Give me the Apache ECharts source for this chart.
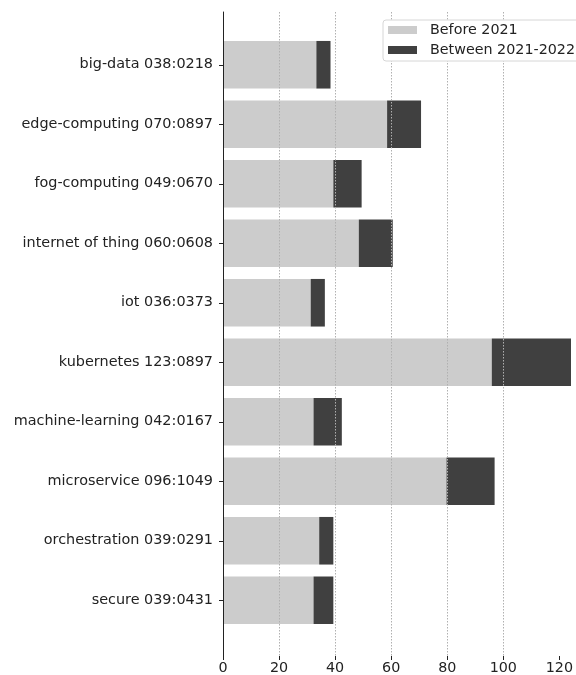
<!DOCTYPE html>
<html>
<head>
<meta charset="utf-8">
<script src="https://cdn.jsdelivr.net/npm/echarts@6/dist/echarts.min.js"></script>
<style>html,body{margin:0;padding:0;background:#fff}#c{width:576px;height:675px}</style>
</head>
<body>
<div id="c"></div>
<script>
const categories = ['big-data 038:0218','edge-computing 070:0897','fog-computing 049:0670','internet of thing 060:0608','iot 036:0373','kubernetes 123:0897','machine-learning 042:0167','microservice 096:1049','orchestration 039:0291','secure 039:0431'];
const before2021 = [33, 58, 39, 48, 31, 95, 32, 79, 34, 32];
const between2021_2022 = [5, 12, 10, 12, 5, 28, 10, 17, 5, 7];
const xTicks = [0, 20, 40, 60, 80, 100, 120];
const seriesNames = ['Before 2021', 'Between 2021-2022'];

const FONT = 'DejaVu Sans';
const TXT = '#222';
const chart = echarts.init(document.getElementById('c'), null, {renderer: 'canvas'});
chart.setOption({
  animation: false,
  backgroundColor: '#fff',
  textStyle: {fontFamily: FONT},
  grid: [
    {left: 223, right: 5, top: 12, bottom: 17, containLabel: false},
    {left: 223, right: 5, top: 35, bottom: 45, containLabel: false}
  ],
  legend: {
    data: seriesNames,
    orient: 'vertical',
    left: 383, top: 20,
    itemWidth: 29, itemHeight: 8, itemGap: 6,
    padding: [3, 8, 4, 5],
    backgroundColor: '#fff',
    borderColor: '#d6d6d6', borderWidth: 1, borderRadius: 3,
    textStyle: {fontFamily: FONT, fontSize: 14.3, color: TXT, padding: [0, 0, 0, 8]},
    icon: 'rect', z: 10
  },
  xAxis: [
    {
      gridIndex: 0, type: 'value', min: 0, max: 123, interval: 20, z: 3,
      axisLine: {show: false},
      axisTick: {show: true, length: 4, lineStyle: {color: '#222'}, customValues: xTicks},
      axisLabel: {fontFamily: FONT, fontSize: 14.3, color: TXT, margin: 5, customValues: xTicks},
      splitLine: {show: true, showMinLine: false, showMaxLine: false, lineStyle: {color: '#b0b0b0', type: [1.5, 1.5], width: 1}}
    },
    {
      gridIndex: 1, type: 'value', min: 0, max: 123, interval: 20, show: false
    }
  ],
  yAxis: [
    {
      gridIndex: 0, type: 'value', min: 0, max: 1, z: 5,
      axisLine: {show: true, onZero: false, lineStyle: {color: '#222', width: 1}},
      axisTick: {show: false}, axisLabel: {show: false}, splitLine: {show: false}
    },
    {
      gridIndex: 1, type: 'category', data: categories, inverse: true,
      axisLine: {show: false},
      axisTick: {show: true, alignWithLabel: true, length: 4, lineStyle: {color: '#222'}},
      axisLabel: {fontFamily: FONT, fontSize: 14.4, color: TXT, margin: 10},
      splitLine: {show: false}
    }
  ],
  series: [
    {
      name: seriesNames[0], type: 'bar', stack: 't', xAxisIndex: 1, yAxisIndex: 1,
      data: before2021, barWidth: '80%',
      itemStyle: {color: '#cccccc'}
    },
    {
      name: seriesNames[1], type: 'bar', stack: 't', xAxisIndex: 1, yAxisIndex: 1,
      data: between2021_2022, barWidth: '80%',
      itemStyle: {color: '#404040'}
    }
  ]
});
</script>
</body>
</html>
